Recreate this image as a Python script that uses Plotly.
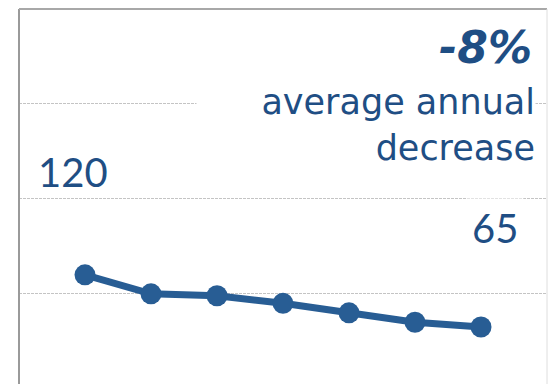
import plotly.graph_objects as go

# Annual series (values per year)
years = [2014, 2015, 2016, 2017, 2018, 2019, 2020]
values = [120, 100, 98, 90, 80, 70, 65]
grid_values = [100, 200, 300]

headline = "-8%"
subtitle = "average annual<br>decrease"

LINE_BLUE = "#285D94"
TEXT_BLUE = "#1F4E84"
FONT = "Lato"
WIDE_FONT = "DejaVu Sans"

W, H = 548, 384
M_L, M_R, M_T, M_B = 19, 1, 9, 0
plot_w = W - M_L - M_R
plot_h = H - M_T - M_B


def px_x(px):
    return (px - M_L) / plot_w


def px_y(py):
    return (H - M_B - py) / plot_h


fig = go.Figure()
fig.add_trace(go.Scatter(
    x=years, y=values, mode="lines+markers",
    line=dict(color=LINE_BLUE, width=7),
    marker=dict(color=LINE_BLUE, size=21),
    hoverinfo="skip", showlegend=False,
))

# value labels for first and last point
fig.add_annotation(x=years[0], y=values[0], text=str(values[0]),
                   showarrow=False, xshift=-12, yshift=103,
                   font=dict(family=FONT, size=40, color=TEXT_BLUE))
fig.add_annotation(x=years[-1], y=values[-1], text=str(values[-1]),
                   showarrow=False, xshift=14, yshift=99,
                   bgcolor="white", borderpad=5,
                   font=dict(family=FONT, size=40, color=TEXT_BLUE))

# headline figure
fig.add_annotation(xref="paper", yref="paper", x=px_x(534), y=px_y(48),
                   xanchor="right", yanchor="middle", showarrow=False,
                   text="<b><i>" + headline + "</i></b>",
                   font=dict(family=WIDE_FONT, size=44, color=TEXT_BLUE))
fig.add_annotation(xref="paper", yref="paper", x=px_x(536), y=px_y(125),
                   xanchor="right", yanchor="middle", showarrow=False,
                   text=subtitle, align="right", width=338, borderpad=0,
                   bgcolor="white",
                   font=dict(family=WIDE_FONT, size=35, color=TEXT_BLUE))

# frame: left, top, right
fig.add_shape(type="line", xref="paper", yref="paper", x0=0, x1=0, y0=0, y1=1,
              line=dict(color="#9a9a9a", width=2))
fig.add_shape(type="line", xref="paper", yref="paper", x0=0, x1=1, y0=1, y1=1,
              line=dict(color="#a8a8a8", width=2))
fig.add_shape(type="line", xref="paper", yref="paper", x0=1, x1=1, y0=0, y1=1,
              line=dict(color="#dedede", width=1))

fig.update_layout(
    width=W, height=H,
    margin=dict(l=M_L, r=M_R, t=M_T, b=M_B),
    paper_bgcolor="white", plot_bgcolor="white",
    xaxis=dict(range=[years[0] - 1, years[-1] + 1], showgrid=False,
               showticklabels=False, zeroline=False, showline=False,
               ticks=""),
    yaxis=dict(range=[5, 400], tickvals=grid_values, showticklabels=False,
               showgrid=True, gridcolor="#c4c4c4", gridwidth=1,
               griddash="3px,1px", zeroline=False, showline=False, ticks=""),
)

fig.write_html("out.html")
